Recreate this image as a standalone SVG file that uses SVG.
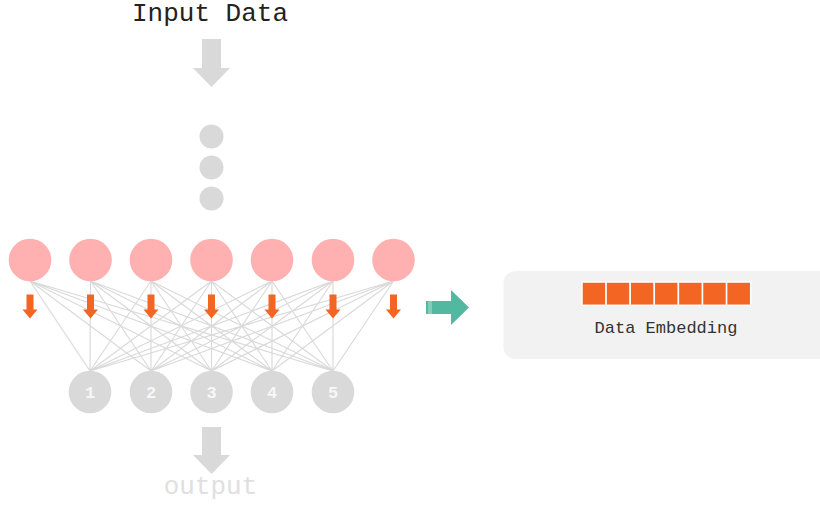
<svg xmlns="http://www.w3.org/2000/svg" width="820" height="514" viewBox="0 0 820 514">
<style>
.mono{font-family:"Liberation Mono","Courier New",monospace}
.top{fill:#ffb0b0}
.bot{fill:#d9d9d9}
.dot{fill:#d9d9d9}
.lbl{font-family:"Liberation Mono","Courier New",monospace;font-weight:bold;font-size:17px;fill:#f7f7f7;text-anchor:middle}
.edge{stroke:#dadada;stroke-width:1.2;fill:none}
.oa{fill:#f26522}
.sq{fill:#f26522;stroke:#ffffff;stroke-width:1.5}
</style>
<defs>
<path id="oarrow" d="M-3.5,0 H3.5 V15 H7.5 L0,24 L-7.5,15 H-3.5 Z"/>
</defs>
<rect width="820" height="514" fill="#ffffff"/>
<text x="210" y="21" class="mono" font-size="26" fill="#222" text-anchor="middle">Input Data</text>
<path d="M202,39 H221 V68 H230 L211.5,87 L193,68 H202 Z" fill="#d9d9d9"/>
<g id="dots">
<circle cx="211.5" cy="136.5" r="12" class="dot"/>
<circle cx="211.5" cy="167.5" r="12" class="dot"/>
<circle cx="211.5" cy="198.5" r="12" class="dot"/>
</g>
<g id="connectors">
<path class="edge" d="M30,281 L90,371 M30,281 L151,371 M30,281 L211.5,371 M30,281 L272,371 M30,281 L333,371
M90.5,281 L90,371 M90.5,281 L151,371 M90.5,281 L211.5,371 M90.5,281 L272,371 M90.5,281 L333,371
M151,281 L90,371 M151,281 L151,371 M151,281 L211.5,371 M151,281 L272,371 M151,281 L333,371
M211.5,281 L90,371 M211.5,281 L151,371 M211.5,281 L211.5,371 M211.5,281 L272,371 M211.5,281 L333,371
M272,281 L90,371 M272,281 L151,371 M272,281 L211.5,371 M272,281 L272,371 M272,281 L333,371
M333,281 L90,371 M333,281 L151,371 M333,281 L211.5,371 M333,281 L272,371 M333,281 L333,371
M393.5,281 L90,371 M393.5,281 L151,371 M393.5,281 L211.5,371 M393.5,281 L272,371 M393.5,281 L333,371"/>
</g>
<g id="top-nodes">
<circle cx="30" cy="260" r="21.3" class="top"/>
<circle cx="90.5" cy="260" r="21.3" class="top"/>
<circle cx="151" cy="260" r="21.3" class="top"/>
<circle cx="211.5" cy="260" r="21.3" class="top"/>
<circle cx="272" cy="260" r="21.3" class="top"/>
<circle cx="333" cy="260" r="21.3" class="top"/>
<circle cx="393.5" cy="260" r="21.3" class="top"/>
</g>
<g id="orange-arrows" class="oa">
<use href="#oarrow" x="30" y="294.5"/>
<use href="#oarrow" x="90.5" y="294.5"/>
<use href="#oarrow" x="151" y="294.5"/>
<use href="#oarrow" x="211.5" y="294.5"/>
<use href="#oarrow" x="272" y="294.5"/>
<use href="#oarrow" x="333" y="294.5"/>
<use href="#oarrow" x="393.5" y="294.5"/>
</g>
<g id="n1"><circle cx="90" cy="392" r="21.3" class="bot"/><text x="90" y="398" class="lbl">1</text></g>
<g id="n2"><circle cx="151" cy="392" r="21.3" class="bot"/><text x="151" y="398" class="lbl">2</text></g>
<g id="n3"><circle cx="211.5" cy="392" r="21.3" class="bot"/><text x="211.5" y="398" class="lbl">3</text></g>
<g id="n4"><circle cx="272" cy="392" r="21.3" class="bot"/><text x="272" y="398" class="lbl">4</text></g>
<g id="n5"><circle cx="333" cy="392" r="21.3" class="bot"/><text x="333" y="398" class="lbl">5</text></g>
<path d="M202,427 H221 V455 H230 L211.5,474 L193,455 H202 Z" fill="#d9d9d9"/>
<text x="210.5" y="494" class="mono" font-size="26" fill="#e0e0e0" text-anchor="middle">output</text>
<g id="teal-arrow">
<path d="M426,301 H451 V290 L469,307.5 L451,325 V314 H426 Z" fill="#52b9a0"/>
<line x1="429" y1="301" x2="429" y2="314" stroke="#ffffff" stroke-width="0.8" opacity="0.7"/>
<line x1="431" y1="301" x2="431" y2="314" stroke="#ffffff" stroke-width="0.8" opacity="0.7"/>
</g>
<g id="embedding">
<rect x="503.5" y="271" width="340" height="88" rx="12" fill="#f2f2f2"/>
<rect x="582" y="282" width="24.1" height="23.3" class="sq"/>
<rect x="606.1" y="282" width="24.1" height="23.3" class="sq"/>
<rect x="630.2" y="282" width="24.1" height="23.3" class="sq"/>
<rect x="654.3" y="282" width="24.1" height="23.3" class="sq"/>
<rect x="678.4" y="282" width="24.1" height="23.3" class="sq"/>
<rect x="702.5" y="282" width="24.1" height="23.3" class="sq"/>
<rect x="726.6" y="282" width="24.1" height="23.3" class="sq"/>
<text x="666" y="333" class="mono" font-size="17" fill="#333" text-anchor="middle">Data Embedding</text>
</g>
</svg>
